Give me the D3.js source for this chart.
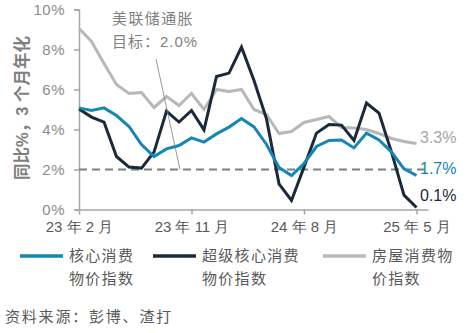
<!DOCTYPE html>
<html><head><meta charset="utf-8">
<script src="https://cdn.jsdelivr.net/npm/d3@7/dist/d3.min.js"></script>
<style>
body{margin:0;background:#fff;}
svg{display:block;font-family:"Liberation Sans","Noto Sans CJK SC",sans-serif;}
</style></head>
<body><svg id="c" width="475" height="333"></svg>
<script>
const months = d3.range(28).map(i => new Date(2023, 1 + i, 1));
const coreCPI = [5.08,4.95,5.08,4.7,4.15,3.25,2.65,3.03,3.2,3.58,3.37,3.78,4.12,4.55,4.13,3.25,2.1,1.7,2.3,3.15,3.45,3.48,3.08,3.82,3.48,2.87,2.03,1.7];
const supercore = [5.03,4.62,4.37,2.65,2.12,2.07,2.87,4.92,4.37,4.95,3.98,6.65,6.82,8.12,6.45,4.53,1.28,0.45,2.12,3.82,4.25,4.22,3.45,5.32,4.82,2.87,0.72,0.1];
const shelter = [9.05,8.4,7.3,6.25,5.8,5.85,5.1,5.65,5.2,5.8,5.0,6.0,5.9,6.0,5.0,4.75,3.8,3.9,4.35,4.5,4.65,4.1,4.07,4.0,3.8,3.55,3.4,3.3];
const yTicks = [0,2,4,6,8,10];
const xTickDates = [new Date(2023,1,1), new Date(2023,10,1), new Date(2024,7,1), new Date(2025,4,1)];
const xTickLabels = ["23 年 2 月","23 年 11 月","24 年 8 月","25 年 5 月"];
const target = 2.0;
const endLabels = ["1.7%","0.1%","3.3%"];
const legendNames = [["核心消费","物价指数"],["超级核心消费","物价指数"],["房屋消费物","价指数"]];
const colors = ["#1586b6","#1b2a3b","#b8b8b8"];

const svg = d3.select("#c");
const x = d3.scaleLinear().domain([0,27]).range([79,416.5]);
const y = d3.scaleLinear().domain([0,10]).range([209.5,9.5]);

// y axis
const yAx = svg.append("g").attr("transform","translate(79,0)")
  .call(d3.axisLeft(y).tickValues(yTicks).tickFormat(d=>d+"%").tickSize(5).tickPadding(9));
yAx.select(".domain").attr("stroke","#a6a6a6").attr("stroke-width",1.5);
yAx.selectAll(".tick line").attr("stroke","#a6a6a6").attr("stroke-width",1.5);
yAx.selectAll("text").attr("fill","#8c8c8c").style("font-size","15px").style("letter-spacing","0.5px").style("font-family","Liberation Sans, sans-serif");

// x axis
const xAx = svg.append("g").attr("transform","translate(0,209.5)")
  .call(d3.axisBottom(d3.scaleLinear().domain([x.invert(79), x.invert(428)]).range([79,428]))
    .tickValues(xTickDates.map(d=>d3.timeMonth.count(months[0], d))).tickFormat((d,i)=>xTickLabels[i]).tickSize(5).tickSizeOuter(0).tickPadding(7));
xAx.select(".domain").attr("stroke","#a6a6a6").attr("stroke-width",1.5);
xAx.selectAll(".tick line").attr("stroke","#a6a6a6").attr("stroke-width",1.5);
xAx.selectAll("text").attr("fill","#595959").style("font-size","15px");

// target dashed line
svg.append("line").attr("x1",79).attr("x2",428).attr("y1",y(target)).attr("y2",y(target))
  .attr("stroke","#7f7f7f").attr("stroke-width",2).attr("stroke-dasharray","8,5");

// lines
const line = d3.line().x((d,i)=>x(i)).y(d=>y(d));
[[shelter,2],[supercore,1],[coreCPI,0]].forEach(([s,ci])=>{
  svg.append("path").datum(s).attr("d",line).attr("fill","none")
    .attr("stroke",colors[ci]).attr("stroke-width",3).attr("stroke-linejoin","miter");
});

// annotation
svg.append("line").attr("x1",156).attr("y1",59).attr("x2",180).attr("y2",y(target))
  .attr("stroke","#7f7f7f").attr("stroke-width",0.8);
svg.append("text").attr("x",112).attr("y",24).attr("fill","#7f7f7f").style("font-size","15px").style("letter-spacing","1.4px").text("美联储通胀");
svg.append("text").attr("x",112).attr("y",47).attr("fill","#7f7f7f").style("font-size","15px").style("letter-spacing","1px").text("目标：2.0%");

// end labels
const endY = [168,195,137];
const endCol = [colors[0],colors[1],"#a6a6a6"];
endLabels.forEach((t,i)=>{
  svg.append("text").attr("x",420).attr("y",endY[i]).attr("dy","0.35em").attr("fill",endCol[i])
    .style("font-size","16px").style("font-family","Liberation Sans, sans-serif").text(t);
});

// y title
svg.append("text").attr("transform","translate(22,108) rotate(-90)").attr("text-anchor","middle")
  .attr("dy","0.35em").attr("fill","#7f7f7f").style("font-size","16.5px").style("font-weight","bold").text("同比%，3 个月年化");

// legend
const lx = [20,153,323];
legendNames.forEach((n,i)=>{
  svg.append("line").attr("x1",lx[i]).attr("x2",lx[i]+43).attr("y1",256).attr("y2",256)
    .attr("stroke",colors[i]).attr("stroke-width",3.5);
  n.forEach((t,j)=>{
    svg.append("text").attr("x",lx[i]+49).attr("y",256+j*23).attr("dy","0.35em")
      .attr("fill","#595959").style("font-size","15px").style("letter-spacing","1.3px").text(t);
  });
});

// source
svg.append("text").attr("x",5).attr("y",317).attr("dy","0.35em").attr("fill","#595959")
  .style("font-size","15px").style("letter-spacing","1.8px").text("资料来源：彭博、渣打");
</script></body></html>
